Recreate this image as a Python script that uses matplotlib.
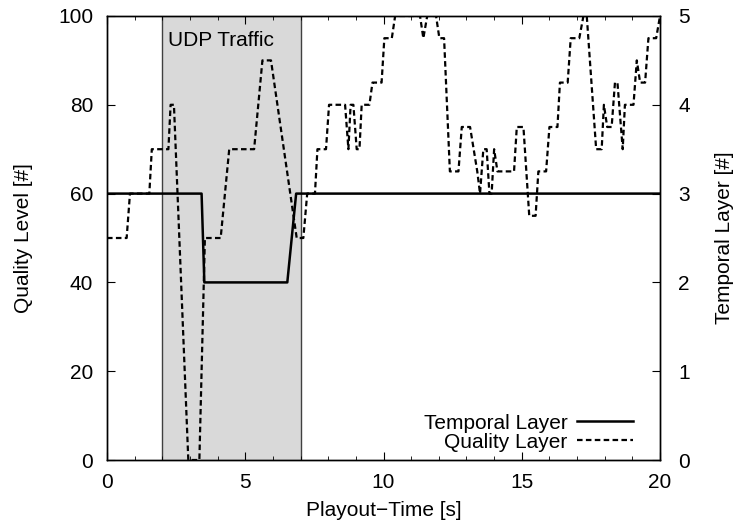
import matplotlib
matplotlib.use("Agg")
import matplotlib.pyplot as plt
from matplotlib.ticker import MultipleLocator
from matplotlib.lines import Line2D

plt.rcParams['font.family'] = ['Liberation Sans', 'DejaVu Sans']
plt.rcParams['font.size'] = 15

# Quality layer (left axis)
q_time = [0, 0.71, 0.83, 1.53, 1.62, 2.22, 2.30, 2.42, 2.94, 3.34, 3.54, 4.11, 4.42, 5.32,
          5.62, 5.93, 6.86, 7.10, 7.24, 7.52, 7.61, 7.92, 8.03, 8.61, 8.73, 8.81, 8.91, 9.03,
          9.13, 9.21, 9.49, 9.60, 9.93, 10.03, 10.30, 10.42, 11.32, 11.44, 11.58, 11.90, 12.02,
          12.19, 12.40, 12.71, 12.83, 13.13, 13.39, 13.49, 13.61, 13.73, 13.83, 13.91, 14.00,
          14.12, 14.72, 14.82, 15.06, 15.27, 15.50, 15.60, 15.88, 16.00, 16.29, 16.38, 16.66,
          16.77, 17.08, 17.23, 17.35, 17.69, 17.89, 17.97, 18.09, 18.25, 18.37, 18.46, 18.65,
          18.73, 19.04, 19.16, 19.28, 19.46, 19.58, 19.86, 20.0]
q_level = [50, 50, 60, 60, 70, 70, 80, 80, 0, 0, 50, 50, 70, 70,
           90, 90, 50, 50, 60, 60, 70, 70, 80, 80, 70, 80, 80, 70,
           70, 80, 80, 85, 85, 95, 95, 100, 100, 95, 100, 100, 95,
           95, 65, 65, 75, 75, 65, 60, 70, 70, 60, 60, 70,
           65, 65, 75, 75, 55, 55, 65, 65, 75, 75, 85, 85,
           95, 95, 100, 100, 70, 70, 80, 75, 75, 85, 85, 70,
           80, 80, 90, 85, 85, 95, 95, 100]

# Temporal layer (right axis)
t_time = [0, 3.42, 3.52, 6.52, 6.84, 20]
t_layer = [3, 3, 2, 2, 3, 3]

udp_start, udp_end = 2, 7

fig = plt.figure(figsize=(7.35, 5.24), dpi=100)
ax = fig.add_axes([0.1456, 0.1221, 0.7524, 0.8474])
ax2 = ax.twinx()

ax.axvspan(udp_start, udp_end, facecolor='#d9d9d9', edgecolor='none', zorder=0)
ax.axvline(udp_start, color='#404040', lw=1.0, zorder=1)
ax.axvline(udp_end, color='#404040', lw=1.0, zorder=1)
ax.text(2.2, 94.5, 'UDP Traffic', va='center', ha='left')

dash = (0, (2.5, 1.5))
ax.plot(q_time, q_level, color='black', lw=1.6, linestyle=dash, zorder=3)
ax2.plot(t_time, t_layer, color='black', lw=1.8, zorder=3)

ax.set_xlim(0, 20)
ax.set_ylim(0, 100)
ax2.set_ylim(0, 5)

ax.xaxis.set_major_locator(MultipleLocator(5))
ax.xaxis.set_minor_locator(MultipleLocator(1))
ax.yaxis.set_major_locator(MultipleLocator(20))
ax2.yaxis.set_major_locator(MultipleLocator(1))

ax.tick_params(which='both', direction='in', top=True, right=False)
ax.tick_params(which='major', length=6)
ax.tick_params(which='minor', length=3)
ax.tick_params(axis='x', which='major', pad=9)
ax.tick_params(axis='y', which='major', pad=10)
ax.tick_params(axis='y', which='minor', left=False)
ax2.tick_params(direction='in', length=6, pad=13)

ax.set_xlabel('Playout\u2212Time [s]', labelpad=7)
ax.set_ylabel('Quality Level [#]', labelpad=18)
ax2.set_ylabel('Temporal Layer [#]', labelpad=18)

for a in (ax, ax2):
    for s in a.spines.values():
        s.set_linewidth(1.0)

handles = [Line2D([], [], color='black', lw=1.8),
           Line2D([], [], color='black', lw=1.6, linestyle=dash)]
ax2.legend(handles, ['Temporal Layer', 'Quality Layer'], loc='lower right',
           frameon=False, markerfirst=False, handlelength=2.7, handletextpad=0.45,
           labelspacing=0.0, borderaxespad=0.0, bbox_to_anchor=(0.966, 0.0))

fig.savefig('out.png', dpi=100)
